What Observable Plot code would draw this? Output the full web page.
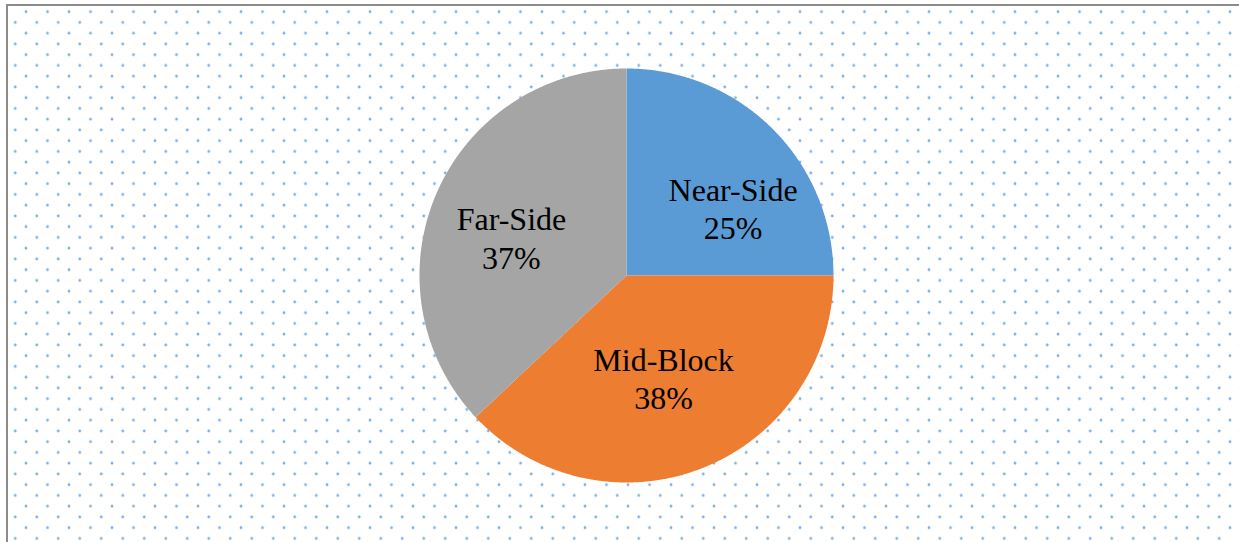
<!DOCTYPE html>
<html>
<head>
<meta charset="utf-8">
<script src="https://cdn.jsdelivr.net/npm/d3@7"></script>
<script src="https://cdn.jsdelivr.net/npm/@observablehq/plot@0.6"></script>
<style>
  html, body { margin: 0; padding: 0; background: #fff; }
  #chart {
    position: relative;
    width: 1239px; height: 542px; overflow: hidden;
    background-color: #fff;
  }
  #chart .frame {
    position: absolute; left: 6px; top: 4px; right: 0; bottom: -4px;
    border-left: 2px solid #8c8c8c; border-top: 2px solid #8c8c8c;
  }
  #chart svg { position: absolute; left: 0; top: 0; }
</style>
</head>
<body>
<div id="chart">
  <svg width="1239" height="542" id="bg">
    <defs>
      <pattern id="dots" patternUnits="userSpaceOnUse" x="4.5" y="0.95" width="21.5" height="21.5">
        <circle cx="0" cy="10.75" r="1.4" fill="#7aaee0"/>
        <circle cx="21.5" cy="10.75" r="1.4" fill="#7aaee0"/>
        <circle cx="10.75" cy="0" r="1.4" fill="#7aaee0"/>
        <circle cx="10.75" cy="21.5" r="1.4" fill="#7aaee0"/>
      </pattern>
    </defs>
    <rect x="8" y="6" width="1231" height="536" fill="url(#dots)"/>
  </svg>
  <div class="frame"></div>
</div>
<script>
// Data
const categories = ["Near-Side", "Mid-Block", "Far-Side"];
const shares = [25, 38, 37];
const colors = ["#5b9bd5", "#ed7d31", "#a5a5a5"];

// Layout
const W = 1239, H = 542;
const cx = 626, cy = 275, R = 207;

const pie = d3.pie().sort(null).value(d => d.share)
  .startAngle(0).endAngle(2 * Math.PI);
const data = categories.map((c, i) => ({category: c, share: shares[i]}));
const arcs = pie(data);

// polygon vertices for each slice (unit radius; angle clockwise from 12 o'clock)
const verts = [];
for (const a of arcs) {
  const n = Math.max(2, Math.ceil((a.endAngle - a.startAngle) / 0.005));
  verts.push({category: a.data.category, x: 0, y: 0});
  for (let k = 0; k <= n; k++) {
    const t = a.startAngle + (a.endAngle - a.startAngle) * k / n;
    verts.push({category: a.data.category, x: Math.sin(t), y: -Math.cos(t)});
  }
  verts.push({category: a.data.category, x: 0, y: 0});
}

// label placement (fraction of radius, angular nudge from mid-angle)
const labelR = [0.61, 0.526, 0.586];
const labelNudge = [0.22, 0.03, -0.086];
const labels = arcs.map((a, i) => {
  const m = (a.startAngle + a.endAngle) / 2 + labelNudge[i];
  return {
    category: a.data.category,
    text: a.data.category + "\n" + a.data.share + "%",
    x: Math.sin(m) * labelR[i],
    y: -Math.cos(m) * labelR[i]
  };
});

const chart = Plot.plot({
  width: W, height: H,
  margin: 0,
  style: {background: "transparent", overflow: "visible"},
  x: {domain: [-cx / R, (W - cx) / R], range: [0, W], axis: null},
  y: {domain: [-cy / R, (H - cy) / R], range: [0, H], axis: null},
  color: {domain: categories, range: colors},
  marks: [
    Plot.line(verts, {x: "x", y: "y", z: "category", fill: "category", stroke: null, curve: "linear"}),
    Plot.text(labels, {
      x: "x", y: "y", text: "text",
      fontFamily: "Liberation Serif",
      fontSize: 32, lineHeight: 1.2, fill: "#000"
    })
  ]
});
document.getElementById("chart").appendChild(chart);
</script>
</body>
</html>
